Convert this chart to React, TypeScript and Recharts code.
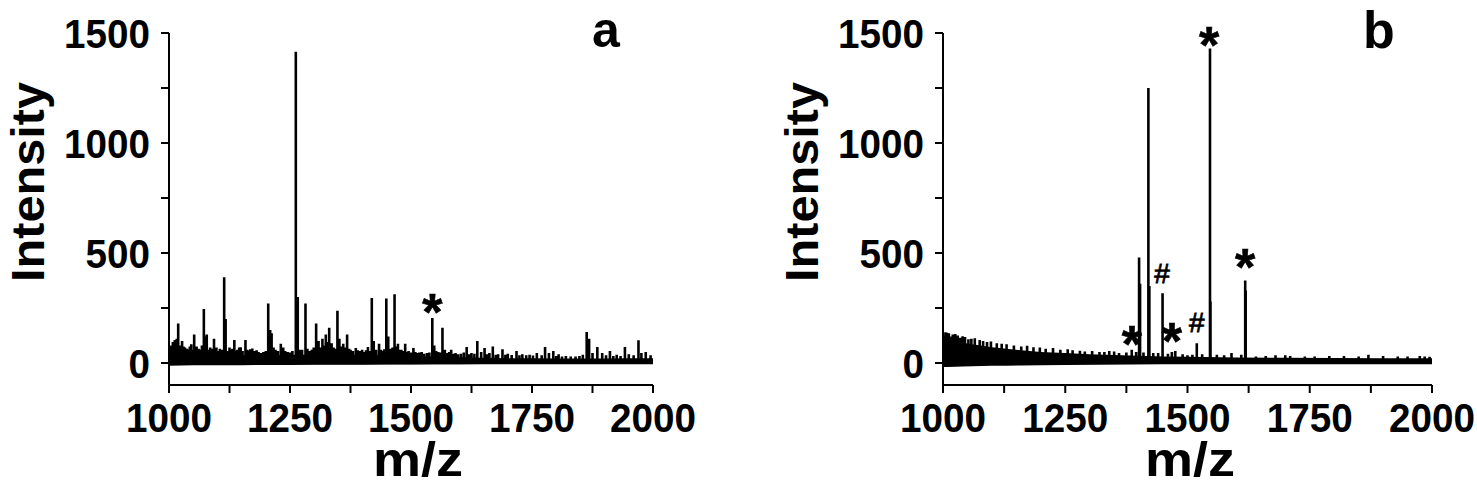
import { ComposedChart, Line, Area, Scatter, XAxis, YAxis } from 'recharts';

const FONT = '"Liberation Sans", Arial, sans-serif';

const MZ_TICKS = [1000, 1125, 1250, 1375, 1500, 1625, 1750, 1875, 2000];
const MZ_LABELS = [1000, 1250, 1500, 1750, 2000];
const INT_TICKS = [0, 250, 500, 750, 1000, 1250, 1500];
const INT_LABELS = [0, 500, 1000, 1500];

// panel a: peaks
const A_PEAK_MZ = [
  1003, 1008, 1012, 1016, 1019, 1023, 1027, 1030, 1033, 1037, 1040, 1043, 1046, 1049, 1052, 1057,
  1061, 1065, 1068, 1072, 1075, 1078, 1082, 1085, 1089, 1093, 1098, 1101, 1105, 1109, 1114, 1117,
  1122, 1125, 1128, 1131, 1135, 1138, 1141, 1145, 1148, 1152, 1158, 1162, 1165, 1168, 1172, 1176,
  1181, 1185, 1190, 1195, 1200, 1205, 1209, 1212, 1216, 1220, 1225, 1231, 1236, 1240, 1245, 1250,
  1255, 1262, 1266, 1270, 1275, 1282, 1286, 1290, 1295, 1299, 1304, 1309, 1313, 1317, 1320, 1324,
  1328, 1331, 1336, 1340, 1344, 1348, 1352, 1356, 1360, 1364, 1368, 1372, 1375, 1380, 1386, 1390,
  1395, 1399, 1403, 1407, 1411, 1415, 1419, 1423, 1428, 1434, 1438, 1441, 1445, 1449, 1453, 1458,
  1462, 1466, 1470, 1473, 1477, 1480, 1484, 1488, 1492, 1495, 1500, 1505, 1509, 1512, 1517, 1522,
  1527, 1533, 1538, 1544, 1548, 1552, 1556, 1561, 1565, 1570, 1575, 1579, 1583, 1588, 1592, 1597,
  1603, 1609, 1615, 1620, 1625, 1631, 1637, 1645, 1652, 1657, 1662, 1669, 1675, 1680, 1689, 1695,
  1700, 1708, 1718, 1724, 1730, 1738, 1745, 1752, 1760, 1770, 1777, 1785, 1794, 1800, 1805, 1812,
  1820, 1830, 1840, 1848, 1855, 1863, 1868, 1875, 1885, 1895, 1903, 1911, 1918, 1925, 1933, 1942,
  1950, 1960, 1970, 1976, 1985, 1995,
];
const A_PEAK_INT = [
  80, 95, 105, 110, 180, 80, 100, 75, 70, 65, 60, 75, 85, 60, 130, 75,
  65, 60, 80, 245, 120, 130, 60, 70, 65, 110, 70, 55, 65, 60, 390, 200,
  55, 70, 60, 65, 105, 55, 60, 70, 72, 55, 105, 60, 55, 62, 66, 55,
  58, 50, 45, 50, 55, 270, 150, 135, 70, 60, 55, 88, 70, 55, 50, 48,
  55, 1415, 300, 60, 60, 270, 65, 55, 60, 70, 180, 100, 70, 110, 80, 130,
  95, 160, 90, 70, 65, 237, 110, 75, 88, 70, 130, 65, 60, 55, 68, 58,
  55, 60, 50, 58, 73, 55, 296, 100, 60, 88, 60, 55, 62, 293, 120, 65,
  70, 313, 75, 88, 60, 60, 55, 88, 50, 55, 48, 68, 50, 45, 48, 50,
  42, 45, 48, 205, 80, 55, 50, 48, 160, 60, 45, 50, 60, 42, 45, 40,
  42, 48, 73, 40, 45, 42, 100, 50, 68, 40, 45, 75, 38, 40, 62, 38,
  42, 36, 55, 35, 40, 35, 38, 34, 45, 35, 73, 45, 55, 32, 40, 30,
  32, 30, 30, 32, 38, 141, 110, 45, 73, 45, 35, 55, 32, 38, 32, 73,
  40, 35, 103, 45, 50, 35,
];
const A_NOISE_MZ = [1000, 1050, 1100, 1150, 1200, 1250, 1300, 1350, 1400, 1450, 1500, 1550, 1600, 1650, 1700, 1750, 1800, 1850, 1900, 1950, 2000];
const A_NOISE_TOP = [45, 42, 40, 35, 35, 38, 38, 40, 35, 35, 30, 30, 26, 24, 22, 22, 20, 20, 20, 22, 22];
const A_NOISE_BOTTOM = [-12, -10, -10, -10, -9, -9, -8, -8, -8, -7, -7, -6, -6, -5, -5, -4, -4, -4, -3, -3, -3];
const A_MARK_MZ = [1544];
const A_MARK_Y = [282];
const A_MARK_TEXT = ['*'];

// panel b
const B_PEAK_MZ = [
  1002, 1005, 1008, 1012, 1015, 1020, 1025, 1030, 1035, 1040, 1045, 1052, 1058, 1065, 1075, 1082,
  1090, 1098, 1110, 1120, 1130, 1145, 1160, 1172, 1185, 1198, 1210, 1225, 1240, 1255, 1265, 1280,
  1290, 1305, 1320, 1330, 1340, 1350, 1360, 1375, 1386, 1395, 1401, 1403, 1410, 1420, 1422, 1430,
  1440, 1449, 1460, 1468, 1475, 1490, 1500, 1510, 1519, 1530, 1546, 1547, 1560, 1575, 1590, 1610,
  1618, 1619, 1640, 1660, 1680, 1700, 1710, 1740, 1760, 1790, 1820, 1850, 1870, 1900, 1930, 1950,
  1975, 1985, 1995,
];
const B_PEAK_INT = [
  125, 140, 138, 135, 120, 130, 132, 125, 115, 122, 118, 108, 110, 112, 105, 100,
  95, 98, 90, 88, 85, 80, 75, 78, 72, 70, 65, 68, 60, 62, 58, 56,
  52, 55, 50, 50, 55, 52, 45, 48, 60, 50, 480, 360, 48, 1250, 350, 45,
  45, 317, 42, 50, 55, 40, 35, 38, 90, 40, 1430, 280, 38, 35, 45, 38,
  375, 330, 30, 32, 35, 35, 32, 30, 30, 32, 32, 30, 38, 32, 30, 30,
  32, 30, 28,
];
const B_NOISE_MZ = [1000, 1010, 1025, 1040, 1060, 1080, 1100, 1130, 1160, 1200, 1250, 1300, 1350, 1400, 1450, 1500, 1600, 1700, 1800, 1900, 2000];
const B_NOISE_TOP = [110, 105, 100, 92, 85, 78, 72, 65, 58, 50, 45, 40, 36, 33, 30, 28, 25, 24, 23, 22, 22];
const B_NOISE_BOTTOM = [-18, -18, -17, -16, -15, -14, -13, -12, -11, -10, -9, -8, -7, -6, -5, -5, -4, -3, -3, -3, -3];
const B_MARK_MZ = [1386, 1448, 1468, 1519, 1544, 1618];
const B_MARK_Y = [135, 409, 150, 186, 1498, 486];
const B_MARK_TEXT = ['*', '#', '*', '#', '*', '*'];

function sticks(mz: number[], h: number[]) {
  const order = mz.map((m, i) => i).sort((i, j) => mz[i] - mz[j]);
  const pts: { mz: number; v: number }[] = [{ mz: 1000, v: 0 }];
  order.forEach(i => {
    pts.push({ mz: mz[i], v: 0 }, { mz: mz[i], v: h[i] }, { mz: mz[i], v: 0 });
  });
  pts.push({ mz: 2000, v: 0 });
  return pts;
}

function band(mz: number[], lo: number[], hi: number[]) {
  return mz.map((m, i) => ({ mz: m, band: [lo[i], hi[i]] }));
}

function marks(mz: number[], y: number[], text: string[]) {
  return mz.map((m, i) => ({ mz: m, v: y[i], text: text[i] }));
}

const MzTick = (props: any) => {
  const { x, y, payload } = props;
  if (!MZ_LABELS.includes(payload.value)) return null;
  const s = String(payload.value);
  return (
    <text x={x} y={y + 39} textAnchor="middle" fontFamily={FONT} fontWeight="bold" fontSize={40}
      textLength={s.length * 21.5} lengthAdjust="spacingAndGlyphs" fill="#000">
      {s}
    </text>
  );
};

const IntTick = (props: any) => {
  const { x, y, payload } = props;
  if (!INT_LABELS.includes(payload.value)) return null;
  const s = String(payload.value);
  return (
    <text x={x - 11} y={y + 15} textAnchor="end" fontFamily={FONT} fontWeight="bold" fontSize={41}
      textLength={s.length * 21.5} lengthAdjust="spacingAndGlyphs" fill="#000">
      {s}
    </text>
  );
};

const MarkShape = (props: any) => {
  const { cx, cy, payload } = props;
  const star = payload.text === '*';
  const fs = star ? 52 : 28;
  const base = star ? cy + 0.56 * fs : cy + 0.36 * fs;
  return (
    <text x={cx} y={base} textAnchor="middle" fontFamily={FONT} fontWeight={star ? 'bold' : 'normal'}
      fontSize={fs} fill="#000" stroke="#000" strokeWidth={star ? 0.6 : 0.8}>
      {payload.text}
    </text>
  );
};

interface PanelProps {
  left: number;
  width: number;
  axisWidth: number;
  right: number;
  peaks: { mz: number; v: number }[];
  noise: { mz: number; band: number[] }[];
  notes: { mz: number; v: number; text: string }[];
}

function Panel({ left, width, axisWidth, right, peaks, noise, notes }: PanelProps) {
  return (
    <div style={{ position: 'absolute', left, top: 0 }}>
      <ComposedChart width={width} height={486} margin={{ top: 33, right, bottom: 0, left: 0 }}>
        <XAxis
          type="number"
          dataKey="mz"
          domain={[1000, 2000]}
          ticks={MZ_TICKS}
          interval={0}
          height={101}
          tickSize={8}
          tickMargin={0}
          axisLine={{ stroke: '#000', strokeWidth: 2 }}
          tickLine={{ stroke: '#000', strokeWidth: 2 }}
          tick={<MzTick />}
        />
        <YAxis
          type="number"
          domain={[-100, 1500]}
          ticks={INT_TICKS}
          interval={0}
          width={axisWidth}
          tickSize={8}
          tickMargin={0}
          axisLine={{ stroke: '#000', strokeWidth: 2 }}
          tickLine={{ stroke: '#000', strokeWidth: 2 }}
          tick={<IntTick />}
        />
        <Area
          data={noise}
          dataKey="band"
          type="linear"
          stroke="none"
          fill="#000"
          fillOpacity={1}
          isAnimationActive={false}
        />
        <Line
          data={peaks}
          dataKey="v"
          type="linear"
          stroke="#000"
          strokeWidth={2.6}
          dot={false}
          activeDot={false}
          isAnimationActive={false}
        />
        <Scatter data={notes} dataKey="v" shape={<MarkShape />} isAnimationActive={false} />
      </ComposedChart>
    </div>
  );
}

export default function App() {
  const titleStyle = { fontFamily: FONT, fontWeight: 'bold' as const, fill: '#000' };
  return (
    <div style={{ position: 'absolute', left: 0, top: 0, width: 1477, height: 486, background: '#fff', overflow: 'hidden' }}>
      <Panel
        left={0}
        width={740}
        axisWidth={169}
        right={87}
        peaks={sticks(A_PEAK_MZ, A_PEAK_INT)}
        noise={band(A_NOISE_MZ, A_NOISE_BOTTOM, A_NOISE_TOP)}
        notes={marks(A_MARK_MZ, A_MARK_Y, A_MARK_TEXT)}
      />
      <Panel
        left={740}
        width={737}
        axisWidth={203}
        right={45}
        peaks={sticks(B_PEAK_MZ, B_PEAK_INT)}
        noise={band(B_NOISE_MZ, B_NOISE_BOTTOM, B_NOISE_TOP)}
        notes={marks(B_MARK_MZ, B_MARK_Y, B_MARK_TEXT)}
      />
      <svg width={1477} height={486} style={{ position: 'absolute', left: 0, top: 0, pointerEvents: 'none' }}>
        <text x={44} y={182} transform="rotate(-90, 44, 182)" textAnchor="middle" fontSize={47}
          textLength={200} lengthAdjust="spacingAndGlyphs" {...titleStyle}>Intensity</text>
        <text x={818} y={182} transform="rotate(-90, 818, 182)" textAnchor="middle" fontSize={47}
          textLength={200} lengthAdjust="spacingAndGlyphs" {...titleStyle}>Intensity</text>
        <text x={418} y={476} textAnchor="middle" fontSize={48} textLength={90}
          lengthAdjust="spacingAndGlyphs" {...titleStyle}>m/z</text>
        <text x={1190} y={476} textAnchor="middle" fontSize={48} textLength={90}
          lengthAdjust="spacingAndGlyphs" {...titleStyle}>m/z</text>
        <text x={606} y={47} textAnchor="middle" fontSize={50} {...titleStyle}>a</text>
        <text x={1379} y={48} textAnchor="middle" fontSize={52} {...titleStyle}>b</text>
      </svg>
    </div>
  );
}
